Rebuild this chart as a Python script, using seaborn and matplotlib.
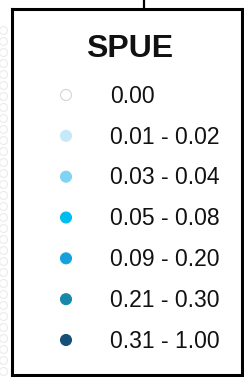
import matplotlib
matplotlib.use("Agg")
import matplotlib.pyplot as plt
import seaborn as sns
import pandas as pd

# legend classes (SPUE) and their colours
labels = ["0.00", "0.01 - 0.02", "0.03 - 0.04", "0.05 - 0.08",
          "0.09 - 0.20", "0.21 - 0.30", "0.31 - 1.00"]
colors = ["#ffffff", "#c6e9f9", "#7fd3f3", "#00bdf0",
          "#15a2dc", "#1888a8", "#164f78"]
edges = ["#d4d4d4", "#c6e9f9", "#7fd3f3", "#00bdf0",
         "#15a2dc", "#1888a8", "#164f78"]
title = "SPUE"

# faint sampling stations of the map peeking out left of the legend
station_y = [30, 41, 52, 63, 74, 85, 96, 107, 118, 129, 140, 151, 162, 173,
             184, 195, 206, 217, 228, 239, 250, 261, 272, 283, 294, 305,
             316, 327, 338, 349, 360, 371]
station_x = [3] * len(station_y)

df = pd.DataFrame({"label": labels, "rank": range(len(labels)), "x": 0})

fig = plt.figure(figsize=(2.44, 3.77), dpi=100)
W, H = 244, 377

# background (map) layer, pixel coordinates
bg = fig.add_axes([0, 0, 1, 1])
bg.set_xlim(0, W)
bg.set_ylim(H, 0)
bg.axis("off")
sns.scatterplot(x=station_x, y=station_y, ax=bg, s=32, color="white",
                edgecolor="#e8e8e8", linewidth=0.7, legend=False)
bg.plot([144, 144], [0, 10], color="black", lw=1.6)

# legend box
left, top, right, bottom = 12, 9, 242, 375
ax = fig.add_axes([left / W, (H - bottom) / H, (right - left) / W, (bottom - top) / H])
ax.set_facecolor("white")
sns.scatterplot(data=df, x="x", y="rank", hue="label", palette=colors,
                hue_order=labels, ax=ax, s=62, legend=False, linewidth=0.8)
for coll in ax.collections:
    coll.set_edgecolor(edges)
ax.set_xlim(-54, 176)
ax.set_ylim(6.857, -2.106)
for i, lab in enumerate(labels):
    ax.text(44, i + 0.03, lab, fontsize=16.5, family="Liberation Sans",
            va="center", ha="left", color="#111111")
ax.text(64, -1.13, title, fontsize=23, fontweight="bold",
        family="Liberation Sans", va="center", ha="center", color="#111111")
ax.set_xticks([])
ax.set_yticks([])
ax.set_xlabel("")
ax.set_ylabel("")
for sp in ax.spines.values():
    sp.set_color("black")
    sp.set_linewidth(2.2)

fig.savefig("out.png", dpi=100)
